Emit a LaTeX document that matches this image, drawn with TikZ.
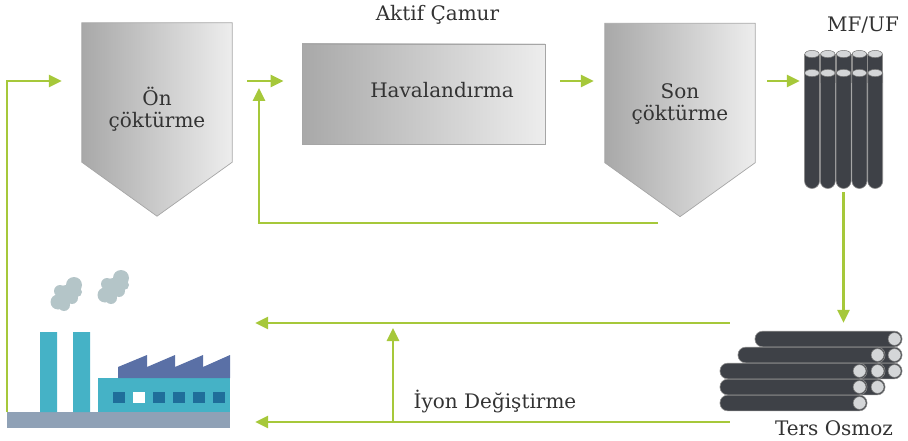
\documentclass[tikz,border=0pt]{standalone}
\usepackage{fontspec}
\setmainfont{DejaVu Serif}
\usetikzlibrary{arrows.meta,calc,positioning}

\definecolor{flowgreen}{HTML}{A6C83A}
\definecolor{tubegray}{HTML}{3E4147}
\definecolor{endgray}{HTML}{D4D6D8}
\definecolor{plantteal}{HTML}{45B2C6}
\definecolor{roofblue}{HTML}{5A70A6}
\definecolor{winblue}{HTML}{1F6E9A}
\definecolor{groundgray}{HTML}{8FA1B6}
\definecolor{smoke}{HTML}{B4C5C8}
\definecolor{txtgray}{HTML}{333333}

% one puff of smoke
\newcommand\puff[2]{%
  \begin{scope}[shift={(#1,#2)}]
    \fill[smoke] (-8,8) circle[radius=7.5pt] (0,0) circle[radius=9pt]
      (8,-9) circle[radius=8pt] (-2,11) circle[radius=6pt]
      (6,4) circle[radius=6pt] (-6,-3) circle[radius=6pt] (11,-2) circle[radius=5pt];
  \end{scope}}

\begin{document}
\begin{tikzpicture}[x=1pt, y=-1pt, >={Triangle[length=13pt,width=12pt]},
  flow/.style={->, draw=flowgreen, line width=2.6pt},
  basin/.style={minimum width=150pt, minimum height=139pt, inner sep=0pt},
  basinfill/.style={draw=black!35, line width=.7pt, left color=black!34, right color=black!7},
  lbl/.style={text=txtgray, font=\fontsize{20}{22}\selectfont, align=center, inner sep=0pt},
  tube/.style={fill=tubegray, draw=black!45, line width=.6pt},
  tubeend/.style={fill=endgray, draw=black!55, line width=.5pt}]

\useasboundingbox (0,0) rectangle (908,441);

% settling basins
\node[basin] (on) at (157,92.5) {};
\node[basin] (son) at (680,93) {};
\foreach \b in {on,son}
  \path[basinfill] (\b.north west) -- (\b.north east) -- (\b.south east)
    -- ($(\b.south)+(0,54)$) -- (\b.south west) -- cycle;
\node[lbl] (on-t) at (157,109) {Ön\\çöktürme};
\node[lbl] (son-t) at (680,104) {Son\\çöktürme};

% aeration tank
\node[basinfill, minimum width=243pt, minimum height=100pt, inner sep=0pt] (hava) at (423.5,94) {};
\node[lbl] (hava-t) at (442,90) {Havalandırma};
\node[lbl] (aktif) at (437.5,15) {Aktif Çamur};

% MF/UF modules
\node[minimum width=79pt, minimum height=143pt, inner sep=0pt] (mf) at (843.5,118.5) {};
\foreach \i in {0,...,4}{
  \pgfmathsetmacro\cx{812+15.8*\i}
  \path[tube] (\cx-7.5,54) rectangle (\cx+7.5,82);
  \path[tubeend] (\cx,54) ellipse[x radius=7.2pt, y radius=3.6pt];
}
\foreach \i in {0,...,4}{
  \pgfmathsetmacro\cx{812+15.8*\i}
  \path[tube] (\cx-7.5,73) -- (\cx-7.5,181) arc[start angle=180, end angle=360, radius=7.5pt]
    -- (\cx+7.5,73) -- cycle;
  \path[tubeend] (\cx,73) ellipse[x radius=7.2pt, y radius=3.6pt];
}
\node[lbl] (mf-t) at (863,25) {MF/UF};

% reverse osmosis stack
\node[minimum width=172pt, minimum height=80pt, inner sep=0pt] (ro) at (816,371) {};
\foreach \xl/\xr/\y in {755/902/339, 755/902/355, 755/902/371,
                        738/885/355, 738/885/371, 738/885/387,
                        720/867/371, 720/867/387, 720/867/403}{
  \path[tube, rounded corners=7.5pt] (\xl,\y-7.8) rectangle (\xr,\y+7.8);
  \path[tubeend] (\xr-7.5,\y) circle[radius=6.4pt];
}
\node[lbl] (ro-t) at (834,428) {Ters Osmoz};

% factory
\node[minimum width=223pt, minimum height=150pt, inner sep=0pt] (plant) at (118.5,337) {};
\fill[groundgray] (7,412) rectangle (230,428);
\fill[plantteal] (40,332) rectangle (57,412) (73,332) rectangle (90,412);
\fill[plantteal] (98,378) rectangle (230,412);
\fill[roofblue] (118,378) -- (118,367) -- (147,355) -- (147,367) -- (175,355) -- (175,367)
  -- (203,355) -- (203,367) -- (230,355) -- (230,378) -- cycle;
\foreach \i in {0,...,5}
  \fill[winblue] (113+20*\i,392) rectangle ++(12,11);
\fill[white] (133,392) rectangle ++(12,11);
\puff{66}{294}
\puff{113}{287}

% flows
\coordinate (feed) at (0,81);
\coordinate (clean) at (0,323);
\coordinate (reuse) at (0,422);
\coordinate (ix) at (393,0);
\coordinate (sludge) at (658,223);
\coordinate (recycle) at (259,88);

\draw[flow, shorten >=20pt] (plant.south west) |- (on.west |- feed);
\draw[flow, shorten <=15pt, shorten >=18pt] (on.east |- feed) -- (hava.west |- feed);
\draw[flow, shorten <=15pt, shorten >=11pt] (hava.east |- feed) -- (son.west |- feed);
\draw[flow, shorten <=12pt, shorten >=4pt] (son.east |- feed) -- (mf.west |- feed);
\draw[flow] (sludge) -| (recycle);
\draw[flow, shorten <=2pt, shorten >=8pt] (mf.south) -- (mf.south |- ro.north);
\draw[flow, shorten >=25pt] (ro.west |- clean) -- (plant.east |- clean);
\draw[flow, shorten >=25pt] (ro.west |- reuse) -- (plant.east |- reuse);
\draw[flow, shorten >=5pt] (ix |- reuse) -- (ix |- clean);
\node[lbl] (iyon) at (495,402) {İyon Değiştirme};

\end{tikzpicture}
\end{document}
